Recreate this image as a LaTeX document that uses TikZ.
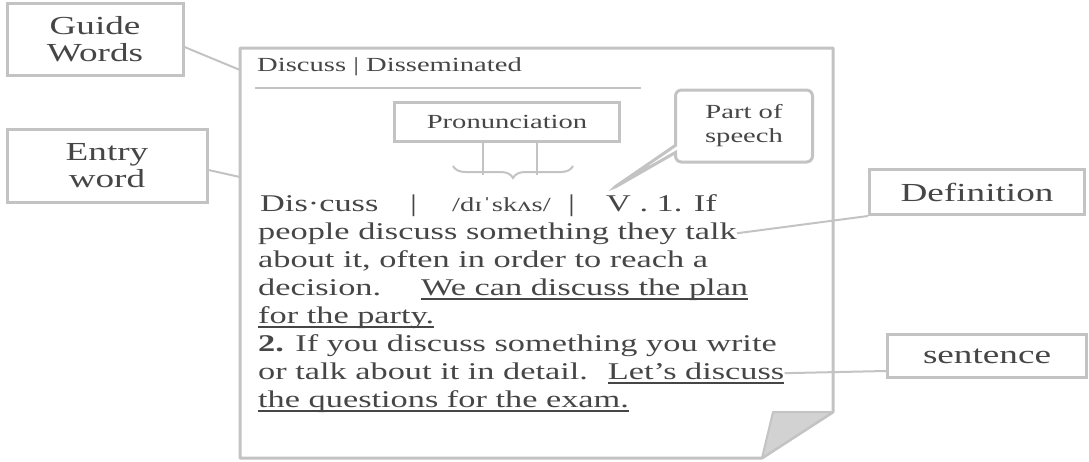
\documentclass[tikz,border=0pt]{standalone}
\usepackage{fontspec}
\usetikzlibrary{shapes.callouts, decorations.pathreplacing, calc}
\newfontfamily\dictfont{Liberation Serif}[FakeStretch=1.43]
\newcommand{\exul}[1]{\setbox0\hbox{#1}\rlap{\rule[-5pt]{\wd0}{1.6pt}}\box0}
\definecolor{lineGray}{RGB}{195, 195, 195}
\definecolor{textGray}{RGB}{70, 70, 70}

\begin{document}
\begin{tikzpicture}[x=1pt, y=-1pt,
      box/.style={rectangle, draw=lineGray, line width=3pt, fill=white, text=textGray, align=center, inner sep=0pt, font=\dictfont\fontsize{26}{27}\selectfont},
      small/.style={font=\dictfont\fontsize{20}{24}\selectfont},
      txt/.style={anchor=base west, inner sep=0pt, text=textGray, font=\dictfont\fontsize{24}{28}\selectfont},
      conn/.style={draw=lineGray, line width=2pt}]

      \useasboundingbox (0,0) rectangle (1089,461);

      % dictionary page with folded corner
      \draw[lineGray, line width=3pt, line join=round] (240,48) -- (833,48) -- (833,412) -- (762,458) -- (240,458) -- cycle;
      \filldraw[draw=lineGray, fill=lineGray!75, line width=2pt, line join=round] (773,412) -- (833,412) -- (762,458) -- cycle;

      \node[txt, small] (gw) at (257,71) {Discuss | Disseminated};
      \draw[lineGray, line width=2pt] (255,88) -- (641,88);

      \node[txt] (head) at (260,211) {Dis·cuss};
      \node[txt] (bara) at (410,211) {|};
      \node[txt, small] (pron) at (452,211) {/dɪˈskʌs/};
      \node[txt] (barb) at (568,211) {|};
      \node[txt] (pos) at (606,211) {V . 1. If};
      \node[txt] (l2) at (258,239) {people discuss something they talk};
      \node[txt] (l3) at (258,267) {about it, often in order to reach a};
      \node[txt] (l4) at (258,295) {decision.\hspace{40pt}\exul{We can discuss the plan}};
      \node[txt] (l5) at (258,323) {\exul{for the party.}};
      \node[txt] (l6) at (258,351) {\textbf{2.} If you discuss something you write};
      \node[txt] (l7) at (258,379) {or talk about it in detail.\hspace{20pt}\exul{Let’s discuss}};
      \node[txt] (l8) at (258,407) {\exul{the questions for the exam.}};

      \node[box, minimum width=176pt, minimum height=72pt] (guide) at (95,39) {Guide\\Words};
      \node[box, minimum width=200pt, minimum height=73pt] (entry) at (107,166) {Entry\\word};
      \node[box, small, minimum width=225pt, minimum height=39pt] (pronbox) at (507,122) {Pronunciation};
      \node[box, small, rectangle callout, rounded corners=6pt, minimum width=137pt, minimum height=72pt,
            callout absolute pointer={($(pos.north west)+(6,-5)$)}] (speech) at (744,126) {Part of\\speech};
      \node[box, minimum width=215pt, minimum height=45pt] (def) at (977,192) {Definition};
      \node[box, minimum width=199pt, minimum height=43pt] (sent) at (987,356) {sentence};

      \coordinate (gwpoint) at (240,70);
      \coordinate (ewpoint) at (240,177);
      \coordinate (bl) at (453,166);
      \coordinate (br) at (573,166);

      \draw[conn] ([yshift=-8pt]guide.east) -- (gwpoint);
      \draw[conn] ([yshift=-4pt]entry.east) -- (ewpoint);
      \draw[conn] ([xshift=-24pt]pronbox.south) -- ++(0,32);
      \draw[conn] ([xshift=30pt]pronbox.south) -- ++(0,32);
      \draw[conn, decorate, decoration={brace, mirror, amplitude=12pt}] (bl) -- (br);
      \draw[conn] (l2.east) -- (def.south west);
      \draw[conn] (l7.east) -- ([yshift=8pt]sent.south west);
  \end{tikzpicture}
\end{document}
